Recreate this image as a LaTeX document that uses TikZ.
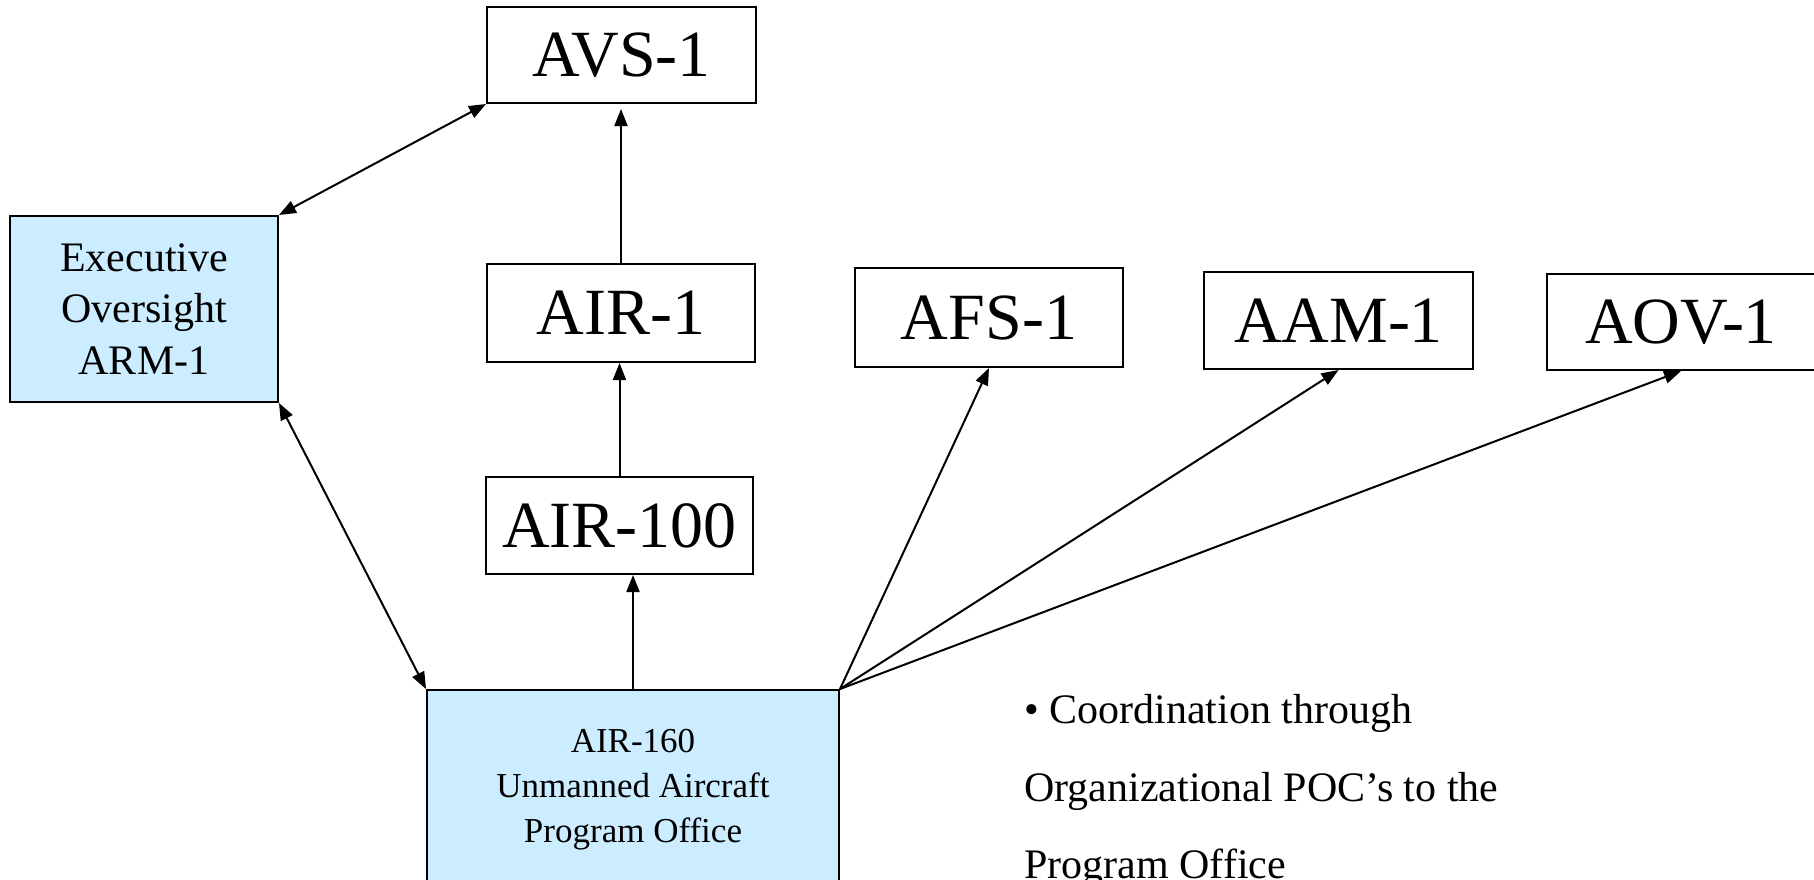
\documentclass[tikz,border=0pt]{standalone}
\usepackage{fontspec}
\setmainfont{Liberation Serif}
\usetikzlibrary{arrows.meta}
\definecolor{paleblue}{HTML}{CCECFF}
\tikzset{
  orgbox/.style={draw=black, line width=1pt, fill=white, inner sep=0pt,
    minimum width=134pt, minimum height=48.5pt,
    font=\fontsize{33}{38}\selectfont},
  bluebox/.style={draw=black, line width=1pt, fill=paleblue, inner sep=0pt, align=center},
  conn/.style={line width=1pt, -{Triangle[length=8.5pt,width=6.5pt]}},
  dconn/.style={line width=1pt, {Triangle[length=8.5pt,width=6.5pt]}-{Triangle[length=8.5pt,width=6.5pt]}},
  note/.style={anchor=base west, inner sep=0pt, font=\fontsize{21}{39}\selectfont}
}
\begin{document}
\begin{tikzpicture}[x=0.5pt,y=-0.5pt]
\useasboundingbox (0,0) rectangle (1814,879);
\clip (0,0) rectangle (1814,879);
\fill[white] (0,0) rectangle (1814,879);

\node[orgbox, minimum width=134.5pt, minimum height=48pt] (avs) at (621.5,55) {AVS-1};
\node[orgbox, minimum height=49pt] (air1) at (621,313) {AIR-1};
\node[orgbox, minimum width=133.5pt] (air100) at (619.5,525.5) {AIR-100};
\node[orgbox, minimum height=49.5pt] (afs) at (989,317.5) {AFS-1};
\node[orgbox, minimum width=134.5pt] (aam) at (1338.5,320.5) {AAM-1};
\node[orgbox, minimum height=48pt] (aov) at (1681,322) {AOV-1};

\node[bluebox, minimum width=134pt, minimum height=93pt,
  font=\fontsize{21}{25.75}\selectfont] (exec) at (144,309)
  {Executive\\Oversight\\ARM-1};
\node[bluebox, minimum width=206pt, minimum height=100pt,
  font=\fontsize{17.5}{22.5}\selectfont] (air160) at (633,790)
  {AIR-160\\Unmanned Aircraft\\Program Office};

\draw[conn] (air160.north) -- (air160.north |- air100.south);
\draw[conn] (air100.north) -- (air100.north |- air1.south);
\draw[conn, shorten >=2.5pt] (air1.north) -- (air1.north |- avs.south);
\draw[dconn] (exec.north east) -- (avs.south west);
\draw[dconn] (exec.south east) -- (air160.north west);
\draw[conn] (air160.north east) -- (afs.south);
\draw[conn] (air160.north east) -- (aam.south);
\draw[conn] (air160.north east) -- (aov.south);

\node[note] (n1) at (1024,723) {\textbullet\ Coordination through};
\node[note] (n2) at (1024,801) {Organizational POC’s to the};
\node[note] (n3) at (1024,878) {Program Office};
\end{tikzpicture}
\end{document}
